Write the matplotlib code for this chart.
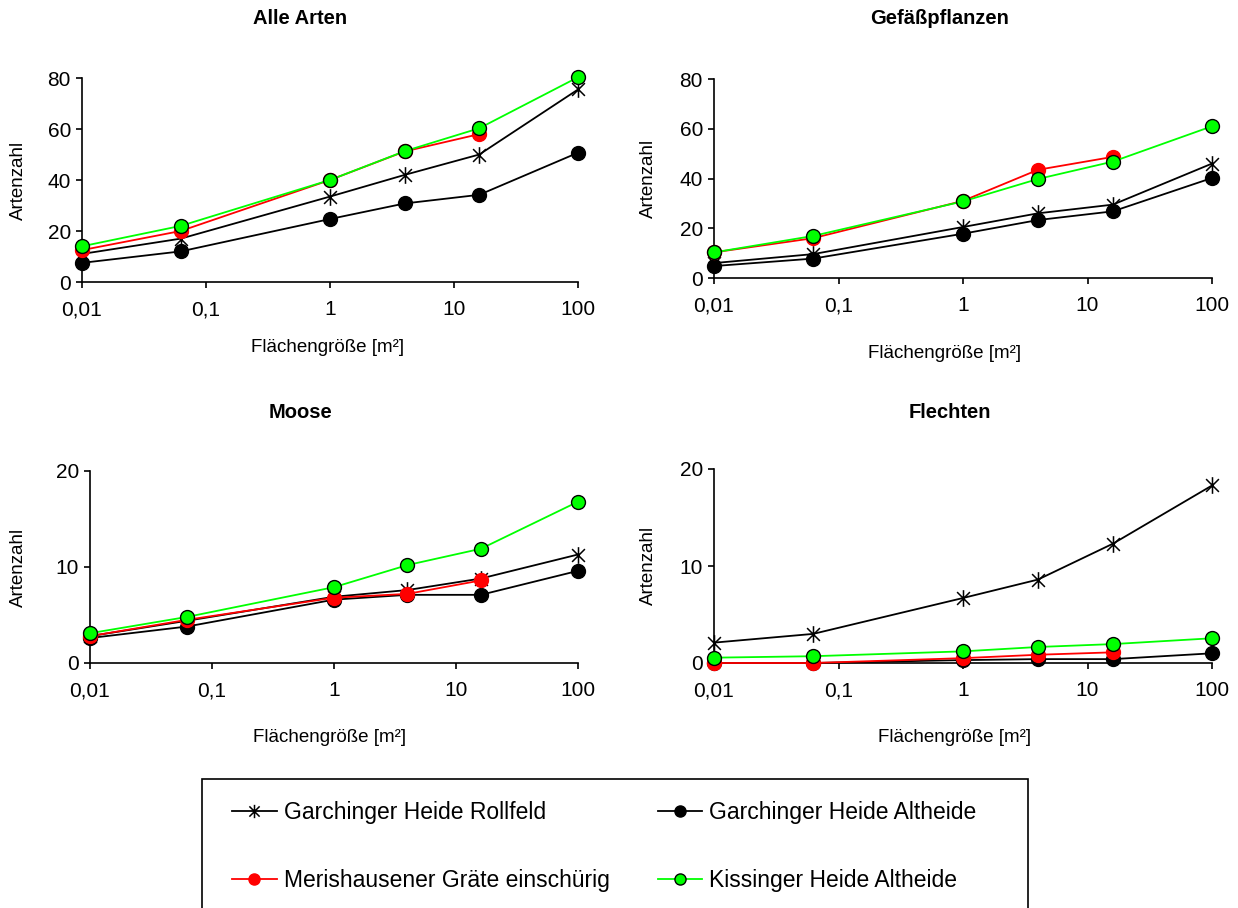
import matplotlib
matplotlib.use("Agg")
import matplotlib.pyplot as plt
from matplotlib.path import Path
from matplotlib.patches import Rectangle
from matplotlib.ticker import FixedLocator, FixedFormatter, NullLocator

plt.rcParams['font.family'] = ['Liberation Sans', 'DejaVu Sans']

# Flächengrößen der Aufnahmeflächen [m²]
flaeche = [0.01, 0.0625, 1, 4, 16, 100]
flaeche_mer = [0.01, 0.0625, 1, 4, 16]

serien = ['Garchinger Heide Rollfeld', 'Garchinger Heide Altheide',
          'Merishausener Gräte einschürig', 'Kissinger Heide Altheide']

# Alle Arten
alle_rollfeld = [11, 17, 33.5, 42, 50, 75.5]
alle_altheide = [7.5, 12, 24.7, 30.8, 34.2, 50.7]
alle_merish = [12.5, 20, 40, 51.2, 58]
alle_kissing = [14, 22, 40, 51.3, 60.3, 80.3]

# Gefäßpflanzen
gef_rollfeld = [6, 9.6, 20.5, 26, 29.5, 46]
gef_altheide = [4.8, 7.8, 17.8, 23.3, 26.8, 40.2]
gef_merish = [10.3, 16, 31, 43.5, 48.7]
gef_kissing = [10.3, 16.9, 30.8, 39.8, 46.8, 61]

# Moose
moo_rollfeld = [2.8, 4.4, 6.9, 7.6, 8.8, 11.3]
moo_altheide = [2.6, 3.8, 6.6, 7.1, 7.1, 9.6]
moo_merish = [2.8, 4.5, 6.8, 7.2, 8.6]
moo_kissing = [3.1, 4.8, 7.9, 10.2, 11.9, 16.8]

# Flechten
fle_rollfeld = [2.1, 3.0, 6.7, 8.6, 12.3, 18.3]
fle_altheide = [0, 0, 0.3, 0.4, 0.4, 1.0]
fle_merish = [0, 0, 0.5, 0.85, 1.1]
fle_kissing = [0.55, 0.7, 1.2, 1.65, 1.95, 2.55]

# Stern-Marker: Kreuz mit senkrechtem Strich
stern = Path([(-1, -1), (1, 1), (-1, 1), (1, -1), (0, -1.3), (0, 1.3)],
             [Path.MOVETO, Path.LINETO, Path.MOVETO, Path.LINETO, Path.MOVETO, Path.LINETO])

W, H = 1238, 908
fig = plt.figure(figsize=(W / 100, H / 100), dpi=100)


def px_axes(x0, x1, ytop, ybot):
    return fig.add_axes([x0 / W, 1 - ybot / H, (x1 - x0) / W, (ybot - ytop) / H])


def panel(ax, daten, ymax, ystep):
    rol, alt, mer, kis = daten
    ax.plot(flaeche, rol, color='black', lw=1.3, marker=stern, ms=12, mew=1.1,
            mfc='none', mec='black', clip_on=False, zorder=3)
    ax.plot(flaeche, alt, color='black', lw=1.3, marker='o', ms=10,
            mfc='black', mec='black', clip_on=False, zorder=4)
    ax.plot(flaeche_mer, mer, color='#ff0000', lw=1.3, marker='o', ms=10,
            mfc='#ff0000', mec='#ff0000', clip_on=False, zorder=5)
    ax.plot(flaeche, kis, color='#00ff00', lw=1.3, marker='o', ms=10,
            mfc='#00ff00', mec='black', mew=1.0, clip_on=False, zorder=6)
    ax.set_xscale('log')
    ax.set_xlim(0.01, 100)
    ax.set_ylim(0, ymax)
    ax.xaxis.set_major_locator(FixedLocator([0.01, 0.1, 1, 10, 100]))
    ax.xaxis.set_major_formatter(FixedFormatter(['0,01', '0,1', '1', '10', '100']))
    ax.xaxis.set_minor_locator(NullLocator())
    ax.set_yticks(range(0, ymax + 1, ystep))
    for s in ('top', 'right'):
        ax.spines[s].set_visible(False)
    for s in ('left', 'bottom'):
        ax.spines[s].set_linewidth(1.2)
    ax.tick_params(axis='both', direction='out', length=4, width=1.2,
                   labelsize=15, pad=4)
    ax.tick_params(axis='x', pad=9)


ax1 = px_axes(82, 578, 78, 282)
panel(ax1, (alle_rollfeld, alle_altheide, alle_merish, alle_kissing), 80, 20)
ax2 = px_axes(714, 1212, 79, 278)
panel(ax2, (gef_rollfeld, gef_altheide, gef_merish, gef_kissing), 80, 20)
ax3 = px_axes(90, 578, 471, 663)
panel(ax3, (moo_rollfeld, moo_altheide, moo_merish, moo_kissing), 20, 10)
ax4 = px_axes(714, 1212, 469, 663)
panel(ax4, (fle_rollfeld, fle_altheide, fle_merish, fle_kissing), 20, 10)

# Titel und Achsenbeschriftungen
titel = [('Alle Arten', 300, 18), ('Gefäßpflanzen', 940, 18),
         ('Moose', 300, 412), ('Flechten', 950, 412)]
for t, x, y in titel:
    fig.text(x / W, 1 - y / H, t, ha='center', va='center',
             fontsize=14.5, fontweight='bold')

xlab = [(328, 348), (945, 353), (330, 737), (955, 737)]
for x, y in xlab:
    fig.text(x / W, 1 - y / H, 'Flächengröße [m²]', ha='center', va='center',
             fontsize=13.5)

ylab = [(18, 180), (648, 178), (18, 567), (648, 565)]
for x, y in ylab:
    fig.text(x / W, 1 - y / H, 'Artenzahl', ha='center', va='center',
             rotation=90, fontsize=13.5)

# Legende im Rahmen unten
fig.add_artist(Rectangle((202 / W, -0.01), (1028 - 202) / W, (908 - 779) / H + 0.01,
                         transform=fig.transFigure, fill=False,
                         ec='black', lw=1.2))
rol_l, alt_l, mer_l, kis_l = ax1.get_lines()
# zeilenweise Anordnung: Legende füllt spaltenweise
leg = fig.legend([rol_l, mer_l, alt_l, kis_l],
                 [serien[0], serien[2], serien[1], serien[3]],
                 ncol=2, frameon=False,
                 loc='upper left', bbox_to_anchor=(232 / W, 1 - 801 / H),
                 borderpad=0, borderaxespad=0, fontsize=16.5,
                 labelspacing=1.95, columnspacing=2.1,
                 handlelength=1.95, handletextpad=0.3, markerscale=0.8)

fig.savefig('out.png', dpi=100)
